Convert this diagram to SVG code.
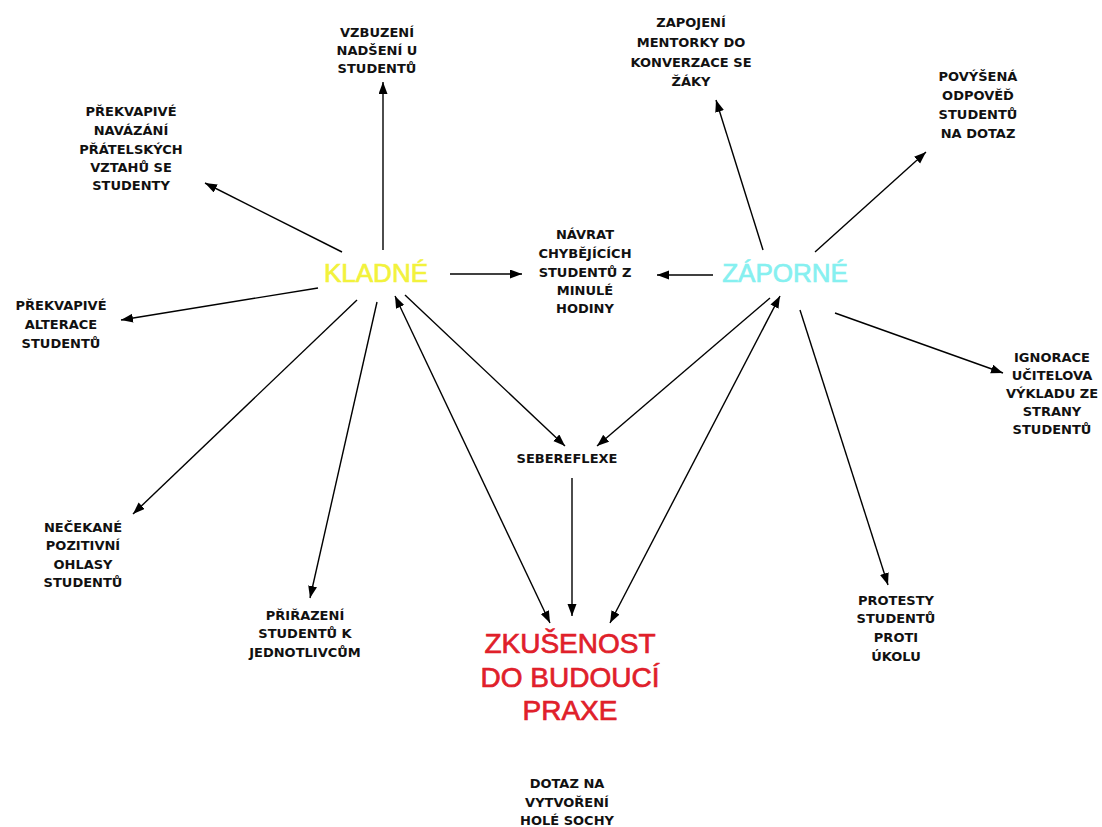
<svg xmlns="http://www.w3.org/2000/svg" width="1102" height="827" viewBox="0 0 1102 827">
<style>
.lbl{font-family:"DejaVu Sans","Liberation Sans",sans-serif;font-weight:bold;font-size:13px;fill:#111;text-anchor:middle}
.big{font-family:"Liberation Sans",Arial,sans-serif;text-anchor:middle;stroke-width:0.7}
.c line{stroke:#000;stroke-width:1.4;fill:none}
</style>
<defs>
<marker id="ah" markerUnits="userSpaceOnUse" markerWidth="13" markerHeight="10" refX="12" refY="4.5" orient="auto-start-reverse">
<path d="M0,0 L12,4.5 L0,9 z" fill="#000"/>
</marker>
</defs>
<rect width="1102" height="827" fill="#fff"/>
<g class="c" id="connectors">
<line x1="383" y1="250" x2="383" y2="82" marker-end="url(#ah)"/>
<line x1="342" y1="252" x2="205" y2="183" marker-end="url(#ah)"/>
<line x1="318" y1="288" x2="121" y2="320" marker-end="url(#ah)"/>
<line x1="357" y1="300" x2="133" y2="514" marker-end="url(#ah)"/>
<line x1="377" y1="302" x2="310" y2="598" marker-end="url(#ah)"/>
<line x1="395" y1="296" x2="550" y2="623" marker-start="url(#ah)" marker-end="url(#ah)"/>
<line x1="405" y1="295" x2="565" y2="446" marker-end="url(#ah)"/>
<line x1="450" y1="274" x2="522" y2="274" marker-end="url(#ah)"/>
<line x1="763" y1="250" x2="716" y2="100" marker-end="url(#ah)"/>
<line x1="815" y1="252" x2="926" y2="152" marker-end="url(#ah)"/>
<line x1="713" y1="275" x2="657" y2="275" marker-end="url(#ah)"/>
<line x1="770" y1="298" x2="597" y2="446" marker-end="url(#ah)"/>
<line x1="780" y1="296" x2="610" y2="623" marker-start="url(#ah)" marker-end="url(#ah)"/>
<line x1="835" y1="313" x2="1003" y2="373" marker-end="url(#ah)"/>
<line x1="800" y1="310" x2="888" y2="585" marker-end="url(#ah)"/>
<line x1="572" y1="478" x2="572" y2="616" marker-end="url(#ah)"/>
</g>
<g id="kladne"><text class="big" x="376" y="282" font-size="26" fill="#f2f23c" stroke="#f2f23c">KLADNÉ</text></g>
<g id="zaporne"><text class="big" x="785" y="282" font-size="26" fill="#86f0f0" stroke="#86f0f0">ZÁPORNÉ</text></g>
<g id="zkusenost"><text class="big" x="570" y="653" font-size="28" fill="#e0202a" stroke="#e0202a"><tspan x="570">ZKUŠENOST</tspan><tspan x="570" y="687">DO BUDOUCÍ</tspan><tspan x="570" y="720">PRAXE</tspan></text></g>
<g id="vzbuzeni"><text class="lbl" x="377" y="37"><tspan x="377">VZBUZENÍ</tspan><tspan x="377" y="55">NADŠENÍ U</tspan><tspan x="377" y="73">STUDENTŮ</tspan></text></g>
<g id="zapojeni"><text class="lbl" x="691" y="27"><tspan x="691">ZAPOJENÍ</tspan><tspan x="691" y="47">MENTORKY DO</tspan><tspan x="691" y="67">KONVERZACE SE</tspan><tspan x="691" y="86">ŽÁKY</tspan></text></g>
<g id="navazani"><text class="lbl" x="131" y="116"><tspan x="131">PŘEKVAPIVÉ</tspan><tspan x="131" y="135">NAVÁZÁNÍ</tspan><tspan x="131" y="154">PŘÁTELSKÝCH</tspan><tspan x="131" y="172">VZTAHŮ SE</tspan><tspan x="131" y="190">STUDENTY</tspan></text></g>
<g id="povysena"><text class="lbl" x="978" y="81"><tspan x="978">POVÝŠENÁ</tspan><tspan x="978" y="100">ODPOVĚĎ</tspan><tspan x="978" y="119">STUDENTŮ</tspan><tspan x="978" y="138">NA DOTAZ</tspan></text></g>
<g id="navrat"><text class="lbl" x="585" y="239"><tspan x="585">NÁVRAT</tspan><tspan x="585" y="258">CHYBĚJÍCÍCH</tspan><tspan x="585" y="277">STUDENTŮ Z</tspan><tspan x="585" y="295">MINULÉ</tspan><tspan x="585" y="313">HODINY</tspan></text></g>
<g id="alterace"><text class="lbl" x="61" y="310"><tspan x="61">PŘEKVAPIVÉ</tspan><tspan x="61" y="329">ALTERACE</tspan><tspan x="61" y="348">STUDENTŮ</tspan></text></g>
<g id="ignorace"><text class="lbl" x="1052" y="362"><tspan x="1052">IGNORACE</tspan><tspan x="1052" y="380">UČITELOVA</tspan><tspan x="1052" y="398">VÝKLADU ZE</tspan><tspan x="1052" y="416">STRANY</tspan><tspan x="1052" y="434">STUDENTŮ</tspan></text></g>
<g id="sebereflexe"><text class="lbl" x="567" y="463">SEBEREFLEXE</text></g>
<g id="necekane"><text class="lbl" x="83" y="532"><tspan x="83">NEČEKANÉ</tspan><tspan x="83" y="550">POZITIVNÍ</tspan><tspan x="83" y="569">OHLASY</tspan><tspan x="83" y="587">STUDENTŮ</tspan></text></g>
<g id="prirazeni"><text class="lbl" x="305" y="620"><tspan x="305">PŘIŘAZENÍ</tspan><tspan x="305" y="638">STUDENTŮ K</tspan><tspan x="305" y="657">JEDNOTLIVCŮM</tspan></text></g>
<g id="protesty"><text class="lbl" x="896" y="605"><tspan x="896">PROTESTY</tspan><tspan x="896" y="623">STUDENTŮ</tspan><tspan x="896" y="642">PROTI</tspan><tspan x="896" y="661">ÚKOLU</tspan></text></g>
<g id="dotaz"><text class="lbl" x="567" y="788"><tspan x="567">DOTAZ NA</tspan><tspan x="567" y="807">VYTVOŘENÍ</tspan><tspan x="567" y="825">HOLÉ SOCHY</tspan></text></g>
</svg>
